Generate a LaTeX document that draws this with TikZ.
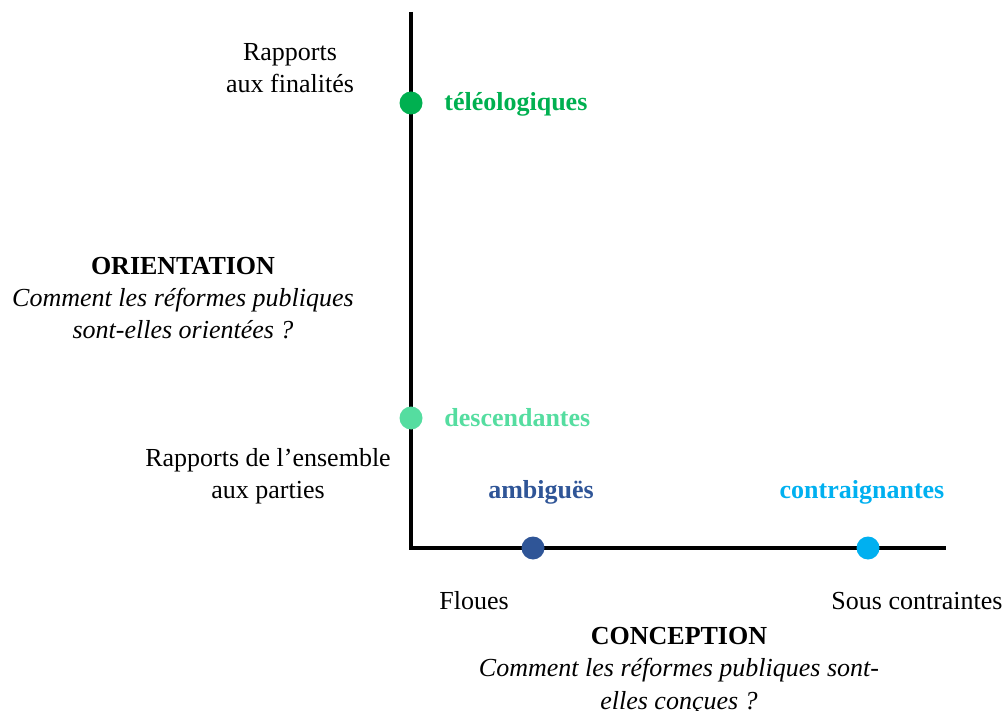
\documentclass[tikz,border=0pt]{standalone}
\usepackage{fontspec}
\setmainfont{Liberation Serif}
\definecolor{teleo}{HTML}{00B050}
\definecolor{desc}{HTML}{55DDA0}
\definecolor{ambig}{HTML}{2F5597}
\definecolor{contr}{HTML}{00B0F0}
\tikzset{
    dot/.style={circle, fill=#1, inner sep=0pt, minimum size=11.5pt},
    lbl/.style={font=\fontsize{13}{16.2}\selectfont, align=center, inner sep=0pt},
    val/.style={font=\fontsize{13}{16}\selectfont\bfseries, text=#1, inner sep=0pt}
}
\begin{document}
\begin{tikzpicture}[x=0.5pt,y=-0.5pt]
    \useasboundingbox (0,0) rectangle (1007,711);
    % axes
    \coordinate (top) at (411,12);
    \coordinate (origin) at (411,548);
    \coordinate (right) at (946,548);
    \draw[line width=2pt] (top) -- (origin) -- (right);

    % points
    \node[dot=teleo] (pteleo) at (411,103) {};
    \node[dot=desc] (pdesc) at (411,418) {};
    \node[dot=ambig] (pambig) at (533,548) {};
    \node[dot=contr] (pcontr) at (868,548) {};

    % valeurs
    \node[val=teleo, anchor=west] (teleo) at (444,104) {téléologiques};
    \node[val=desc, anchor=west] (desc) at (444,418) {descendantes};
    \node[val=ambig] (ambig) at (541,492) {ambiguës};
    \node[val=contr] (contr) at (862,492) {contraignantes};

    % axe vertical
    \node[lbl] (finalites) at (290,68) {Rapports\\aux finalités};
    \node[lbl] (orient) at (183,298) {\textbf{ORIENTATION}\\\textit{Comment les réformes publiques}\\\textit{sont-elles orientées ?}};
    \node[lbl] (parties) at (268,476) {Rapports de l’ensemble\\aux parties};

    % axe horizontal
    \node[lbl] (floues) at (474,601) {Floues};
    \node[lbl] (souscontr) at (917,601) {Sous contraintes};
    \node[lbl] (concep) at (679,671) {\textbf{CONCEPTION}\\\textit{Comment les réformes publiques sont-}\\\textit{elles conçues ?}};
\end{tikzpicture}
\end{document}
